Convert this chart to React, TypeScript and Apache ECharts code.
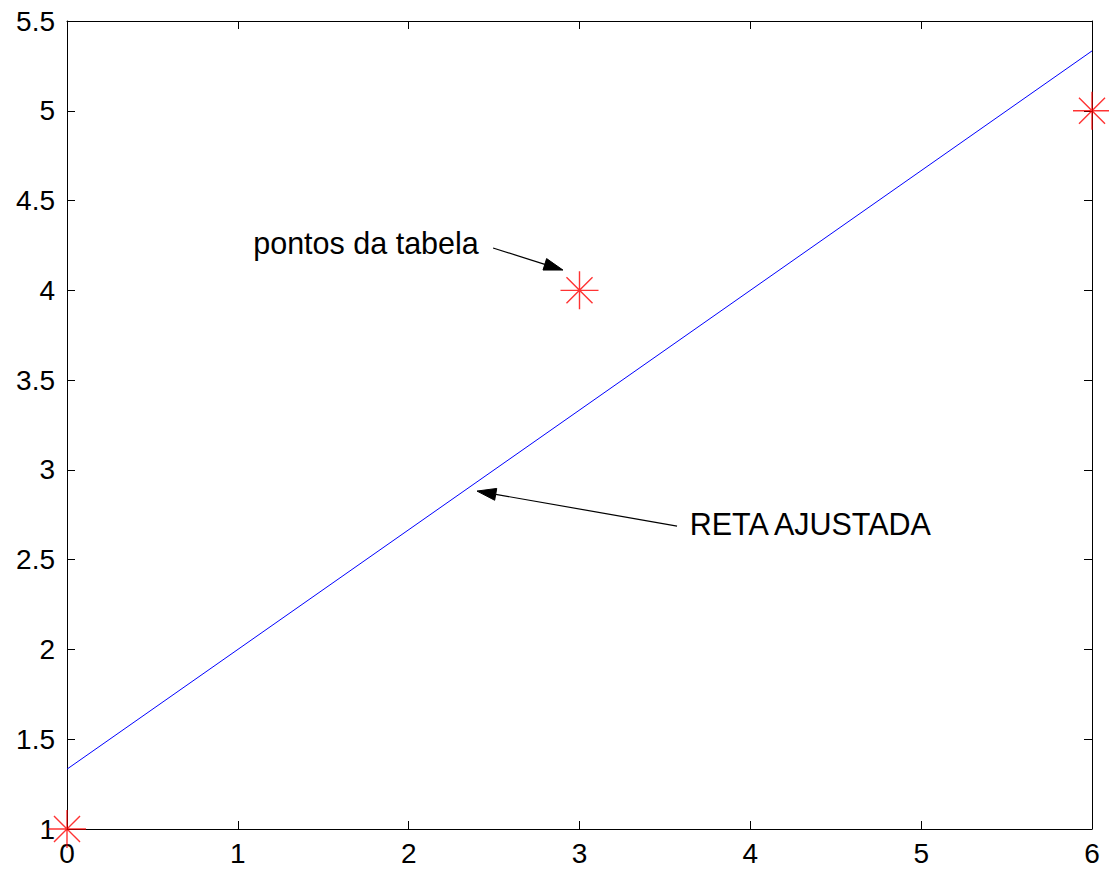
import React, { useEffect, useRef } from "react";
import * as echarts from "echarts";

// Table points and the fitted straight line
const tableX = [0, 3, 6];
const tableY = [1, 4, 5];
const fitX = [0, 6];
const fitY = [1.3333, 5.3333];

// Axis ranges
const xMin = 0;
const xMax = 6;
const yMin = 1;
const yMax = 5.5;

// Annotation texts
const noteTexts = ["pontos da tabela", "RETA AJUSTADA"];

const FONT = '"Liberation Sans", Arial, sans-serif';

export default function App() {
  const ref = useRef<HTMLDivElement>(null);

  useEffect(() => {
    if (!ref.current) return;
    const chart = echarts.init(ref.current, null, { renderer: "svg" });

    // [textX, textY, arrowFromX, arrowFromY, arrowToX, arrowToY]
    const notes = [
      { value: [1.09, 4.262, 2.494, 4.236, 2.903, 4.113], name: noteTexts[0] },
      { value: [3.645, 2.699, 3.571, 2.687, 2.4, 2.882], name: noteTexts[1] },
    ];

    const asterisk =
      "path://M0,20 L40,20 M20,0 L20,40 M6.3,6.3 L33.7,33.7 M33.7,6.3 L6.3,33.7";

    const tickStyle = { show: true, inside: true, length: 8, lineStyle: { color: "#000", width: 1 } };
    const lineStyle = { show: true, onZero: false, lineStyle: { color: "#000", width: 1 } };

    chart.setOption({
      animation: false,
      backgroundColor: "#fff",
      grid: { left: 67, right: 17, top: 21, bottom: 40, containLabel: false },
      xAxis: [
        {
          type: "value",
          min: xMin,
          max: xMax,
          interval: 1,
          position: "bottom",
          axisLine: lineStyle,
          axisTick: tickStyle,
          splitLine: { show: false },
          axisLabel: { color: "#000", fontFamily: FONT, fontSize: 28, margin: 10 },
        },
        {
          type: "value",
          min: xMin,
          max: xMax,
          interval: 1,
          position: "top",
          axisLine: lineStyle,
          axisTick: tickStyle,
          splitLine: { show: false },
          axisLabel: { show: false },
        },
      ],
      yAxis: [
        {
          type: "value",
          min: yMin,
          max: yMax,
          interval: 0.5,
          position: "left",
          axisLine: lineStyle,
          axisTick: tickStyle,
          splitLine: { show: false },
          axisLabel: { color: "#000", fontFamily: FONT, fontSize: 28, margin: 12 },
        },
        {
          type: "value",
          min: yMin,
          max: yMax,
          interval: 0.5,
          position: "right",
          axisLine: lineStyle,
          axisTick: tickStyle,
          splitLine: { show: false },
          axisLabel: { show: false },
        },
      ],
      series: [
        {
          type: "line",
          data: fitX.map((x, i) => [x, fitY[i]]),
          symbol: "none",
          lineStyle: { color: "#0000ff", width: 1 },
          clip: false,
          z: 3,
        },
        {
          type: "scatter",
          data: tableX.map((x, i) => [x, tableY[i]]),
          symbol: asterisk,
          symbolSize: 38,
          itemStyle: { color: "none", borderColor: "#ff0000", borderWidth: 1.4 },
          clip: false,
          z: 4,
        },
        {
          type: "custom",
          data: notes,
          clip: false,
          z: 5,
          renderItem: (params: any, api: any) => {
            const t = api.coord([api.value(0), api.value(1)]);
            const a = api.coord([api.value(2), api.value(3)]);
            const b = api.coord([api.value(4), api.value(5)]);
            const dx = b[0] - a[0];
            const dy = b[1] - a[1];
            const len = Math.hypot(dx, dy) || 1;
            const ux = dx / len;
            const uy = dy / len;
            const headLen = 19;
            const headHalf = 6;
            const bx = b[0] - ux * headLen;
            const by = b[1] - uy * headLen;
            const px = -uy;
            const py = ux;
            return {
              type: "group",
              children: [
                {
                  type: "line",
                  shape: { x1: a[0], y1: a[1], x2: bx, y2: by },
                  style: { stroke: "#000", lineWidth: 1.2 },
                },
                {
                  type: "polygon",
                  shape: {
                    points: [
                      [b[0], b[1]],
                      [bx + px * headHalf, by + py * headHalf],
                      [bx - px * headHalf, by - py * headHalf],
                    ],
                  },
                  style: { fill: "#000", stroke: "#000", lineWidth: 1 },
                },
                {
                  type: "text",
                  x: t[0],
                  y: t[1],
                  style: {
                    text: noteTexts[params.dataIndex],
                    font: `30.5px ${FONT}`,
                    fill: "#000",
                    align: "left",
                    verticalAlign: "middle",
                  },
                },
              ],
            };
          },
        },
      ],
    });

    return () => chart.dispose();
  }, []);

  return (
    <div
      ref={ref}
      style={{ position: "fixed", left: 0, top: 0, width: 1109, height: 869, background: "#fff" }}
    />
  );
}
